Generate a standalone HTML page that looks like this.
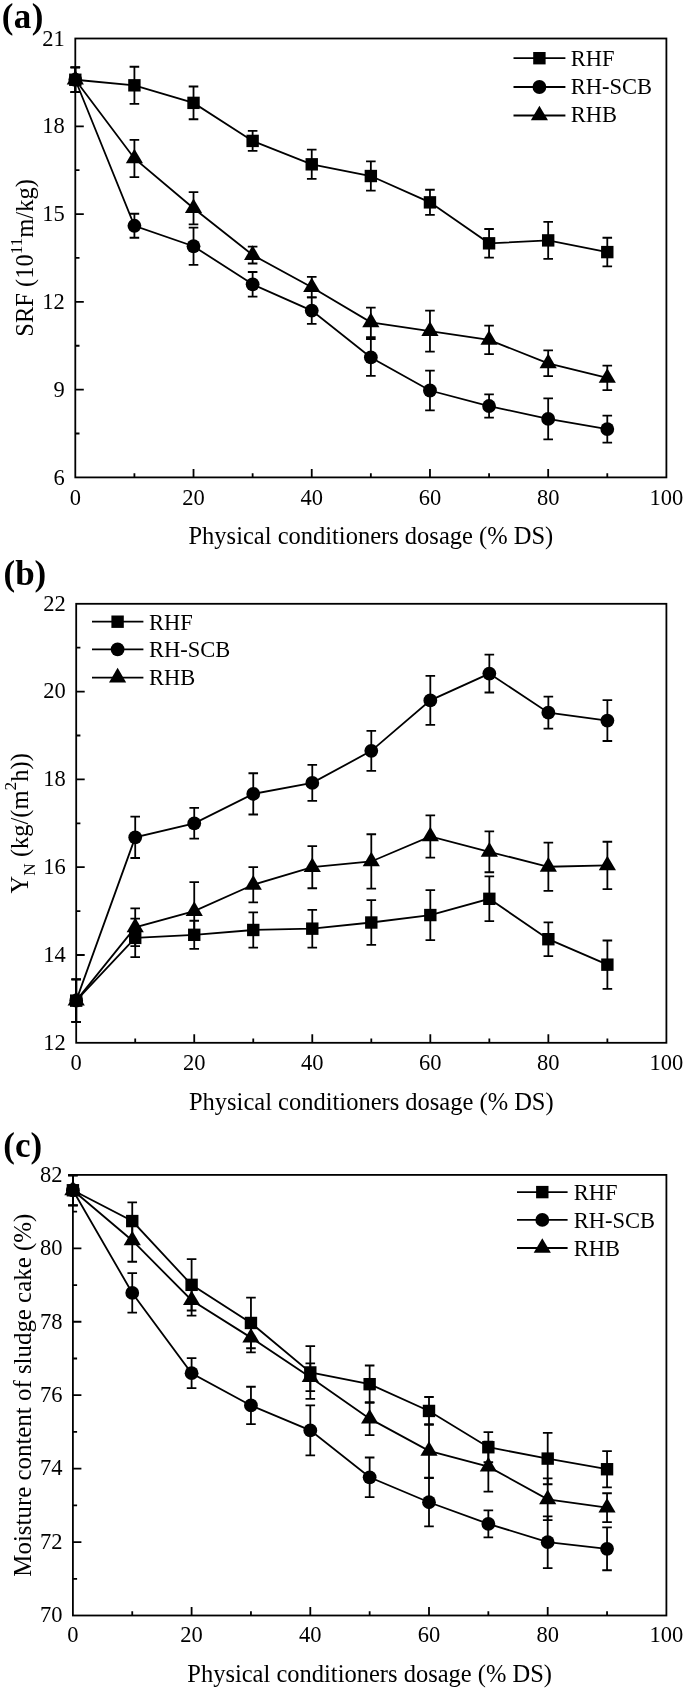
<!DOCTYPE html>
<html><head><meta charset="utf-8"><title>Figure</title>
<style>html,body{margin:0;padding:0;background:#fff}svg{display:block;filter:grayscale(1)}text{font-family:"Liberation Serif",serif;fill:#000}</style>
</head><body>
<svg width="685" height="1690" viewBox="0 0 685 1690">
<rect width="685" height="1690" fill="#fff"/>
<rect x="75.30" y="38.50" width="591.10" height="438.90" fill="none" stroke="#000" stroke-width="1.8"/>
<path d="M134.41 477.40v-4.2M193.52 477.40v-8.5M252.63 477.40v-4.2M311.74 477.40v-8.5M370.85 477.40v-4.2M429.96 477.40v-8.5M489.07 477.40v-4.2M548.18 477.40v-8.5M607.29 477.40v-4.2M75.30 433.51h4.2M75.30 389.62h8.5M75.30 345.73h4.2M75.30 301.84h8.5M75.30 257.95h4.2M75.30 214.06h8.5M75.30 170.17h4.2M75.30 126.28h8.5M75.30 82.39h4.2" stroke="#000" stroke-width="1.8" fill="none"/>
<text x="75.30" y="504.60" text-anchor="middle" font-size="22.5">0</text>
<text x="193.52" y="504.60" text-anchor="middle" font-size="22.5">20</text>
<text x="311.74" y="504.60" text-anchor="middle" font-size="22.5">40</text>
<text x="429.96" y="504.60" text-anchor="middle" font-size="22.5">60</text>
<text x="548.18" y="504.60" text-anchor="middle" font-size="22.5">80</text>
<text x="666.40" y="504.60" text-anchor="middle" font-size="22.5">100</text>
<text x="64.80" y="484.60" text-anchor="end" font-size="22.5">6</text>
<text x="64.80" y="396.82" text-anchor="end" font-size="22.5">9</text>
<text x="64.80" y="309.04" text-anchor="end" font-size="22.5">12</text>
<text x="64.80" y="221.26" text-anchor="end" font-size="22.5">15</text>
<text x="64.80" y="133.48" text-anchor="end" font-size="22.5">18</text>
<text x="64.80" y="45.70" text-anchor="end" font-size="22.5">21</text>
<text x="370.85" y="543.70" text-anchor="middle" font-size="24.5">Physical conditioners dosage (% DS)</text>
<text transform="translate(33.20 257.95) rotate(-90)" text-anchor="middle" font-size="24.5">SRF (10<tspan font-size="17.3" dy="-11.4">11</tspan><tspan dy="11.4">m/kg)</tspan></text>
<text x="1.8" y="27.8" font-size="35" font-weight="bold" letter-spacing="0.4">(a)</text>
<polyline points="75.30,79.76 134.41,85.32 193.52,102.87 252.63,140.91 311.74,164.32 370.85,176.02 429.96,202.36 489.07,243.32 548.18,240.39 607.29,252.10" fill="none" stroke="#000" stroke-width="1.8"/>
<path d="M75.30 67.47V92.05M70.50 67.47h9.6M70.50 92.05h9.6M134.41 66.74V103.90M129.61 66.74h9.6M129.61 103.90h9.6M193.52 86.49V119.26M188.72 86.49h9.6M188.72 119.26h9.6M252.63 130.96V150.86M247.83 130.96h9.6M247.83 150.86h9.6M311.74 149.69V178.95M306.94 149.69h9.6M306.94 178.95h9.6M370.85 161.39V190.65M366.05 161.39h9.6M366.05 190.65h9.6M429.96 189.77V214.94M425.16 189.77h9.6M425.16 214.94h9.6M489.07 228.98V257.66M484.27 228.98h9.6M484.27 257.66h9.6M548.18 221.96V258.83M543.38 221.96h9.6M543.38 258.83h9.6M607.29 237.76V266.44M602.49 237.76h9.6M602.49 266.44h9.6" stroke="#000" stroke-width="1.8" fill="none"/>
<rect x="69.10" y="73.56" width="12.4" height="12.4"/>
<rect x="128.21" y="79.12" width="12.4" height="12.4"/>
<rect x="187.32" y="96.67" width="12.4" height="12.4"/>
<rect x="246.43" y="134.71" width="12.4" height="12.4"/>
<rect x="305.54" y="158.12" width="12.4" height="12.4"/>
<rect x="364.65" y="169.82" width="12.4" height="12.4"/>
<rect x="423.76" y="196.16" width="12.4" height="12.4"/>
<rect x="482.87" y="237.12" width="12.4" height="12.4"/>
<rect x="541.98" y="234.19" width="12.4" height="12.4"/>
<rect x="601.09" y="245.90" width="12.4" height="12.4"/>
<polyline points="75.30,79.76 134.41,225.76 193.52,246.25 252.63,284.28 311.74,310.62 370.85,357.43 429.96,390.50 489.07,406.01 548.18,418.88 607.29,429.12" fill="none" stroke="#000" stroke-width="1.8"/>
<path d="M75.30 67.47V92.05M70.50 67.47h9.6M70.50 92.05h9.6M134.41 213.77V237.76M129.61 213.77h9.6M129.61 237.76h9.6M193.52 227.67V264.83M188.72 227.67h9.6M188.72 264.83h9.6M252.63 271.99V296.57M247.83 271.99h9.6M247.83 296.57h9.6M311.74 297.45V323.78M306.94 297.45h9.6M306.94 323.78h9.6M370.85 339.00V375.87M366.05 339.00h9.6M366.05 375.87h9.6M429.96 370.60V410.39M425.16 370.60h9.6M425.16 410.39h9.6M489.07 394.30V417.71M484.27 394.30h9.6M484.27 417.71h9.6M548.18 398.40V439.36M543.38 398.40h9.6M543.38 439.36h9.6M607.29 415.66V442.58M602.49 415.66h9.6M602.49 442.58h9.6" stroke="#000" stroke-width="1.8" fill="none"/>
<circle cx="75.30" cy="79.76" r="6.9"/>
<circle cx="134.41" cy="225.76" r="6.9"/>
<circle cx="193.52" cy="246.25" r="6.9"/>
<circle cx="252.63" cy="284.28" r="6.9"/>
<circle cx="311.74" cy="310.62" r="6.9"/>
<circle cx="370.85" cy="357.43" r="6.9"/>
<circle cx="429.96" cy="390.50" r="6.9"/>
<circle cx="489.07" cy="406.01" r="6.9"/>
<circle cx="548.18" cy="418.88" r="6.9"/>
<circle cx="607.29" cy="429.12" r="6.9"/>
<polyline points="75.30,79.76 134.41,158.47 193.52,208.21 252.63,255.02 311.74,287.21 370.85,322.32 429.96,331.10 489.07,339.88 548.18,363.29 607.29,377.92" fill="none" stroke="#000" stroke-width="1.8"/>
<path d="M75.30 67.47V92.05M70.50 67.47h9.6M70.50 92.05h9.6M134.41 139.89V177.05M129.61 139.89h9.6M129.61 177.05h9.6M193.52 192.12V224.30M188.72 192.12h9.6M188.72 224.30h9.6M252.63 246.54V263.51M247.83 246.54h9.6M247.83 263.51h9.6M311.74 276.97V297.45M306.94 276.97h9.6M306.94 297.45h9.6M370.85 307.55V337.10M366.05 307.55h9.6M366.05 337.10h9.6M429.96 310.62V351.58M425.16 310.62h9.6M425.16 351.58h9.6M489.07 325.54V354.22M484.27 325.54h9.6M484.27 354.22h9.6M548.18 350.41V376.16M543.38 350.41h9.6M543.38 376.16h9.6M607.29 365.63V390.21M602.49 365.63h9.6M602.49 390.21h9.6" stroke="#000" stroke-width="1.8" fill="none"/>
<path d="M75.30 70.02L83.90 84.62H66.70Z"/>
<path d="M134.41 148.73L143.01 163.33H125.81Z"/>
<path d="M193.52 198.47L202.12 213.07H184.92Z"/>
<path d="M252.63 245.29L261.23 259.89H244.03Z"/>
<path d="M311.74 277.48L320.34 292.08H303.14Z"/>
<path d="M370.85 312.59L379.45 327.19H362.25Z"/>
<path d="M429.96 321.37L438.56 335.97H421.36Z"/>
<path d="M489.07 330.14L497.67 344.74H480.47Z"/>
<path d="M548.18 353.55L556.78 368.15H539.58Z"/>
<path d="M607.29 368.18L615.89 382.78H598.69Z"/>
<path d="M513.50 58.20H565.40" stroke="#000" stroke-width="1.8"/>
<rect x="533.20" y="52.00" width="12.4" height="12.4"/>
<text x="570.80" y="65.60" font-size="22.5">RHF</text>
<path d="M513.50 87.00H565.40" stroke="#000" stroke-width="1.8"/>
<circle cx="539.40" cy="87.00" r="6.9"/>
<text x="570.80" y="94.30" font-size="22.5">RH-SCB</text>
<path d="M513.50 115.50H565.40" stroke="#000" stroke-width="1.8"/>
<path d="M539.40 105.77L548.00 120.37H530.80Z"/>
<text x="570.80" y="122.40" font-size="22.5">RHB</text>
<rect x="76.20" y="603.80" width="590.20" height="439.00" fill="none" stroke="#000" stroke-width="1.8"/>
<path d="M135.22 1042.80v-4.2M194.24 1042.80v-8.5M253.26 1042.80v-4.2M312.28 1042.80v-8.5M371.30 1042.80v-4.2M430.32 1042.80v-8.5M489.34 1042.80v-4.2M548.36 1042.80v-8.5M607.38 1042.80v-4.2M76.20 998.90h4.2M76.20 955.00h8.5M76.20 911.10h4.2M76.20 867.20h8.5M76.20 823.30h4.2M76.20 779.40h8.5M76.20 735.50h4.2M76.20 691.60h8.5M76.20 647.70h4.2" stroke="#000" stroke-width="1.8" fill="none"/>
<text x="76.20" y="1069.70" text-anchor="middle" font-size="22.5">0</text>
<text x="194.24" y="1069.70" text-anchor="middle" font-size="22.5">20</text>
<text x="312.28" y="1069.70" text-anchor="middle" font-size="22.5">40</text>
<text x="430.32" y="1069.70" text-anchor="middle" font-size="22.5">60</text>
<text x="548.36" y="1069.70" text-anchor="middle" font-size="22.5">80</text>
<text x="666.40" y="1069.70" text-anchor="middle" font-size="22.5">100</text>
<text x="65.70" y="1049.60" text-anchor="end" font-size="22.5">12</text>
<text x="65.70" y="961.80" text-anchor="end" font-size="22.5">14</text>
<text x="65.70" y="874.00" text-anchor="end" font-size="22.5">16</text>
<text x="65.70" y="786.20" text-anchor="end" font-size="22.5">18</text>
<text x="65.70" y="698.40" text-anchor="end" font-size="22.5">20</text>
<text x="65.70" y="610.60" text-anchor="end" font-size="22.5">22</text>
<text x="371.30" y="1109.50" text-anchor="middle" font-size="24.5">Physical conditioners dosage (% DS)</text>
<text transform="translate(27.70 823.30) rotate(-90)" text-anchor="middle" font-size="24.5">Y<tspan font-size="17.3" dy="7">N</tspan><tspan dy="-7"> (kg/(m</tspan><tspan font-size="17.3" dy="-11.4">2</tspan><tspan dy="11.4">h))</tspan></text>
<text x="3.5" y="585.2" font-size="35" font-weight="bold" letter-spacing="0">(b)</text>
<polyline points="76.20,1000.66 135.22,937.88 194.24,934.81 253.26,929.98 312.28,928.66 371.30,922.51 430.32,915.05 489.34,898.81 548.36,939.20 607.38,964.66" fill="none" stroke="#000" stroke-width="1.8"/>
<path d="M76.20 979.36V1021.95M71.40 979.36h9.6M71.40 1021.95h9.6M135.22 918.56V957.19M130.42 918.56h9.6M130.42 957.19h9.6M194.24 920.76V948.85M189.44 920.76h9.6M189.44 948.85h9.6M253.26 912.42V947.54M248.46 912.42h9.6M248.46 947.54h9.6M312.28 909.78V947.54M307.48 909.78h9.6M307.48 947.54h9.6M371.30 900.12V944.90M366.50 900.12h9.6M366.50 944.90h9.6M430.32 890.03V940.07M425.52 890.03h9.6M425.52 940.07h9.6M489.34 876.42V921.20M484.54 876.42h9.6M484.54 921.20h9.6M548.36 922.29V956.10M543.56 922.29h9.6M543.56 956.10h9.6M607.38 940.51V988.80M602.58 940.51h9.6M602.58 988.80h9.6" stroke="#000" stroke-width="1.8" fill="none"/>
<rect x="70.00" y="994.46" width="12.4" height="12.4"/>
<rect x="129.02" y="931.68" width="12.4" height="12.4"/>
<rect x="188.04" y="928.61" width="12.4" height="12.4"/>
<rect x="247.06" y="923.78" width="12.4" height="12.4"/>
<rect x="306.08" y="922.46" width="12.4" height="12.4"/>
<rect x="365.10" y="916.31" width="12.4" height="12.4"/>
<rect x="424.12" y="908.85" width="12.4" height="12.4"/>
<rect x="483.14" y="892.61" width="12.4" height="12.4"/>
<rect x="542.16" y="933.00" width="12.4" height="12.4"/>
<rect x="601.18" y="958.46" width="12.4" height="12.4"/>
<polyline points="76.20,1000.66 135.22,837.35 194.24,823.30 253.26,793.89 312.28,782.91 371.30,750.87 430.32,700.38 489.34,673.60 548.36,712.67 607.38,720.57" fill="none" stroke="#000" stroke-width="1.8"/>
<path d="M76.20 979.36V1021.95M71.40 979.36h9.6M71.40 1021.95h9.6M135.22 816.72V857.98M130.42 816.72h9.6M130.42 857.98h9.6M194.24 807.93V838.66M189.44 807.93h9.6M189.44 838.66h9.6M253.26 773.25V814.52M248.46 773.25h9.6M248.46 814.52h9.6M312.28 764.91V800.91M307.48 764.91h9.6M307.48 800.91h9.6M371.30 730.89V770.84M366.50 730.89h9.6M366.50 770.84h9.6M430.32 675.80V724.96M425.52 675.80h9.6M425.52 724.96h9.6M489.34 654.72V692.48M484.54 654.72h9.6M484.54 692.48h9.6M548.36 696.65V728.70M543.56 696.65h9.6M543.56 728.70h9.6M607.38 700.16V740.99M602.58 700.16h9.6M602.58 740.99h9.6" stroke="#000" stroke-width="1.8" fill="none"/>
<circle cx="76.20" cy="1000.66" r="6.9"/>
<circle cx="135.22" cy="837.35" r="6.9"/>
<circle cx="194.24" cy="823.30" r="6.9"/>
<circle cx="253.26" cy="793.89" r="6.9"/>
<circle cx="312.28" cy="782.91" r="6.9"/>
<circle cx="371.30" cy="750.87" r="6.9"/>
<circle cx="430.32" cy="700.38" r="6.9"/>
<circle cx="489.34" cy="673.60" r="6.9"/>
<circle cx="548.36" cy="712.67" r="6.9"/>
<circle cx="607.38" cy="720.57" r="6.9"/>
<polyline points="76.20,1000.66 135.22,927.34 194.24,911.10 253.26,884.76 312.28,867.20 371.30,861.49 430.32,836.47 489.34,851.83 548.36,866.76 607.38,865.44" fill="none" stroke="#000" stroke-width="1.8"/>
<path d="M76.20 979.36V1021.95M71.40 979.36h9.6M71.40 1021.95h9.6M135.22 908.47V946.22M130.42 908.47h9.6M130.42 946.22h9.6M194.24 882.13V940.07M189.44 882.13h9.6M189.44 940.07h9.6M253.26 867.20V902.32M248.46 867.20h9.6M248.46 902.32h9.6M312.28 846.13V888.27M307.48 846.13h9.6M307.48 888.27h9.6M371.30 834.27V888.71M366.50 834.27h9.6M366.50 888.71h9.6M430.32 815.40V857.54M425.52 815.40h9.6M425.52 857.54h9.6M489.34 831.42V872.25M484.54 831.42h9.6M484.54 872.25h9.6M548.36 842.62V890.91M543.56 842.62h9.6M543.56 890.91h9.6M607.38 841.74V889.15M602.58 841.74h9.6M602.58 889.15h9.6" stroke="#000" stroke-width="1.8" fill="none"/>
<path d="M76.20 990.92L84.80 1005.52H67.60Z"/>
<path d="M135.22 917.61L143.82 932.21H126.62Z"/>
<path d="M194.24 901.37L202.84 915.97H185.64Z"/>
<path d="M253.26 875.03L261.86 889.63H244.66Z"/>
<path d="M312.28 857.47L320.88 872.07H303.68Z"/>
<path d="M371.30 851.76L379.90 866.36H362.70Z"/>
<path d="M430.32 826.74L438.92 841.34H421.72Z"/>
<path d="M489.34 842.10L497.94 856.70H480.74Z"/>
<path d="M548.36 857.03L556.96 871.63H539.76Z"/>
<path d="M607.38 855.71L615.98 870.31H598.78Z"/>
<path d="M92.00 621.70H143.40" stroke="#000" stroke-width="1.8"/>
<rect x="111.40" y="615.50" width="12.4" height="12.4"/>
<text x="149.00" y="629.50" font-size="22.5">RHF</text>
<path d="M92.00 649.30H143.40" stroke="#000" stroke-width="1.8"/>
<circle cx="117.60" cy="649.30" r="6.9"/>
<text x="149.00" y="657.20" font-size="22.5">RH-SCB</text>
<path d="M92.00 677.60H143.40" stroke="#000" stroke-width="1.8"/>
<path d="M117.60 667.87L126.20 682.47H109.00Z"/>
<text x="149.00" y="685.20" font-size="22.5">RHB</text>
<rect x="72.90" y="1174.90" width="593.50" height="440.60" fill="none" stroke="#000" stroke-width="1.8"/>
<path d="M132.25 1615.50v-4.2M191.60 1615.50v-8.5M250.95 1615.50v-4.2M310.30 1615.50v-8.5M369.65 1615.50v-4.2M429.00 1615.50v-8.5M488.35 1615.50v-4.2M547.70 1615.50v-8.5M607.05 1615.50v-4.2M72.90 1578.78h4.2M72.90 1542.07h8.5M72.90 1505.35h4.2M72.90 1468.63h8.5M72.90 1431.92h4.2M72.90 1395.20h8.5M72.90 1358.48h4.2M72.90 1321.77h8.5M72.90 1285.05h4.2M72.90 1248.33h8.5M72.90 1211.62h4.2" stroke="#000" stroke-width="1.8" fill="none"/>
<text x="72.90" y="1642.40" text-anchor="middle" font-size="22.5">0</text>
<text x="191.60" y="1642.40" text-anchor="middle" font-size="22.5">20</text>
<text x="310.30" y="1642.40" text-anchor="middle" font-size="22.5">40</text>
<text x="429.00" y="1642.40" text-anchor="middle" font-size="22.5">60</text>
<text x="547.70" y="1642.40" text-anchor="middle" font-size="22.5">80</text>
<text x="666.40" y="1642.40" text-anchor="middle" font-size="22.5">100</text>
<text x="62.40" y="1622.30" text-anchor="end" font-size="22.5">70</text>
<text x="62.40" y="1548.87" text-anchor="end" font-size="22.5">72</text>
<text x="62.40" y="1475.43" text-anchor="end" font-size="22.5">74</text>
<text x="62.40" y="1402.00" text-anchor="end" font-size="22.5">76</text>
<text x="62.40" y="1328.57" text-anchor="end" font-size="22.5">78</text>
<text x="62.40" y="1255.13" text-anchor="end" font-size="22.5">80</text>
<text x="62.40" y="1181.70" text-anchor="end" font-size="22.5">82</text>
<text x="369.65" y="1681.80" text-anchor="middle" font-size="24.5">Physical conditioners dosage (% DS)</text>
<text transform="translate(31.30 1395.20) rotate(-90)" text-anchor="middle" font-size="24.9">Moisture content of sludge cake (%)</text>
<text x="3.3" y="1157.2" font-size="35" font-weight="bold" letter-spacing="0">(c)</text>
<polyline points="72.90,1190.26 132.25,1221.06 191.60,1284.84 250.95,1322.97 310.30,1372.46 369.65,1384.19 429.00,1410.95 488.35,1447.24 547.70,1458.60 607.05,1469.23" fill="none" stroke="#000" stroke-width="1.8"/>
<path d="M72.90 1175.23V1205.29M68.10 1175.23h9.6M68.10 1205.29h9.6M132.25 1202.36V1239.75M127.45 1202.36h9.6M127.45 1239.75h9.6M191.60 1259.18V1310.50M186.80 1259.18h9.6M186.80 1310.50h9.6M250.95 1297.67V1348.26M246.15 1297.67h9.6M246.15 1348.26h9.6M310.30 1346.06V1398.85M305.50 1346.06h9.6M305.50 1398.85h9.6M369.65 1365.49V1402.88M364.85 1365.49h9.6M364.85 1402.88h9.6M429.00 1397.02V1424.88M424.20 1397.02h9.6M424.20 1424.88h9.6M488.35 1432.21V1462.27M483.55 1432.21h9.6M483.55 1462.27h9.6M547.70 1432.94V1484.26M542.90 1432.94h9.6M542.90 1484.26h9.6M607.05 1451.09V1487.38M602.25 1451.09h9.6M602.25 1487.38h9.6" stroke="#000" stroke-width="1.8" fill="none"/>
<rect x="66.70" y="1184.06" width="12.4" height="12.4"/>
<rect x="126.05" y="1214.86" width="12.4" height="12.4"/>
<rect x="185.40" y="1278.64" width="12.4" height="12.4"/>
<rect x="244.75" y="1316.77" width="12.4" height="12.4"/>
<rect x="304.10" y="1366.26" width="12.4" height="12.4"/>
<rect x="363.45" y="1377.99" width="12.4" height="12.4"/>
<rect x="422.80" y="1404.75" width="12.4" height="12.4"/>
<rect x="482.15" y="1441.04" width="12.4" height="12.4"/>
<rect x="541.50" y="1452.40" width="12.4" height="12.4"/>
<rect x="600.85" y="1463.03" width="12.4" height="12.4"/>
<polyline points="72.90,1190.26 132.25,1292.91 191.60,1373.19 250.95,1405.45 310.30,1430.38 369.65,1477.30 429.00,1502.23 488.35,1523.85 547.70,1542.18 607.05,1548.78" fill="none" stroke="#000" stroke-width="1.8"/>
<path d="M72.90 1175.23V1205.29M68.10 1175.23h9.6M68.10 1205.29h9.6M132.25 1273.11V1312.70M127.45 1273.11h9.6M127.45 1312.70h9.6M191.60 1358.16V1388.22M186.80 1358.16h9.6M186.80 1388.22h9.6M250.95 1386.75V1424.14M246.15 1386.75h9.6M246.15 1424.14h9.6M310.30 1405.45V1455.30M305.50 1405.45h9.6M305.50 1455.30h9.6M369.65 1457.50V1497.09M364.85 1457.50h9.6M364.85 1497.09h9.6M429.00 1478.03V1526.42M424.20 1478.03h9.6M424.20 1526.42h9.6M488.35 1510.29V1537.42M483.55 1510.29h9.6M483.55 1537.42h9.6M547.70 1516.34V1568.03M542.90 1516.34h9.6M542.90 1568.03h9.6M607.05 1527.34V1570.23M602.25 1527.34h9.6M602.25 1570.23h9.6" stroke="#000" stroke-width="1.8" fill="none"/>
<circle cx="72.90" cy="1190.26" r="6.9"/>
<circle cx="132.25" cy="1292.91" r="6.9"/>
<circle cx="191.60" cy="1373.19" r="6.9"/>
<circle cx="250.95" cy="1405.45" r="6.9"/>
<circle cx="310.30" cy="1430.38" r="6.9"/>
<circle cx="369.65" cy="1477.30" r="6.9"/>
<circle cx="429.00" cy="1502.23" r="6.9"/>
<circle cx="488.35" cy="1523.85" r="6.9"/>
<circle cx="547.70" cy="1542.18" r="6.9"/>
<circle cx="607.05" cy="1548.78" r="6.9"/>
<polyline points="72.90,1190.26 132.25,1240.49 191.60,1300.24 250.95,1337.63 310.30,1377.22 369.65,1418.64 429.00,1450.90 488.35,1466.67 547.70,1499.29 607.05,1507.72" fill="none" stroke="#000" stroke-width="1.8"/>
<path d="M72.90 1175.23V1205.29M68.10 1175.23h9.6M68.10 1205.29h9.6M132.25 1219.22V1261.75M127.45 1219.22h9.6M127.45 1261.75h9.6M191.60 1284.84V1315.63M186.80 1284.84h9.6M186.80 1315.63h9.6M250.95 1322.97V1352.29M246.15 1322.97h9.6M246.15 1352.29h9.6M310.30 1363.29V1391.15M305.50 1363.29h9.6M305.50 1391.15h9.6M369.65 1402.15V1435.14M364.85 1402.15h9.6M364.85 1435.14h9.6M429.00 1424.14V1477.66M424.20 1424.14h9.6M424.20 1477.66h9.6M488.35 1441.74V1491.59M483.55 1441.74h9.6M483.55 1491.59h9.6M547.70 1478.40V1520.19M542.90 1478.40h9.6M542.90 1520.19h9.6M607.05 1493.24V1522.20M602.25 1493.24h9.6M602.25 1522.20h9.6" stroke="#000" stroke-width="1.8" fill="none"/>
<path d="M72.90 1180.53L81.50 1195.13H64.30Z"/>
<path d="M132.25 1230.75L140.85 1245.35H123.65Z"/>
<path d="M191.60 1290.51L200.20 1305.11H183.00Z"/>
<path d="M250.95 1327.90L259.55 1342.50H242.35Z"/>
<path d="M310.30 1367.49L318.90 1382.09H301.70Z"/>
<path d="M369.65 1408.91L378.25 1423.51H361.05Z"/>
<path d="M429.00 1441.17L437.60 1455.77H420.40Z"/>
<path d="M488.35 1456.93L496.95 1471.53H479.75Z"/>
<path d="M547.70 1489.56L556.30 1504.16H539.10Z"/>
<path d="M607.05 1497.99L615.65 1512.59H598.45Z"/>
<path d="M517.00 1192.10H567.60" stroke="#000" stroke-width="1.8"/>
<rect x="536.10" y="1185.90" width="12.4" height="12.4"/>
<text x="573.80" y="1199.70" font-size="22.5">RHF</text>
<path d="M517.00 1219.90H567.60" stroke="#000" stroke-width="1.8"/>
<circle cx="542.30" cy="1219.90" r="6.9"/>
<text x="573.80" y="1227.70" font-size="22.5">RH-SCB</text>
<path d="M517.00 1248.00H567.60" stroke="#000" stroke-width="1.8"/>
<path d="M542.30 1238.27L550.90 1252.87H533.70Z"/>
<text x="573.80" y="1255.60" font-size="22.5">RHB</text>
</svg>
</body></html>
